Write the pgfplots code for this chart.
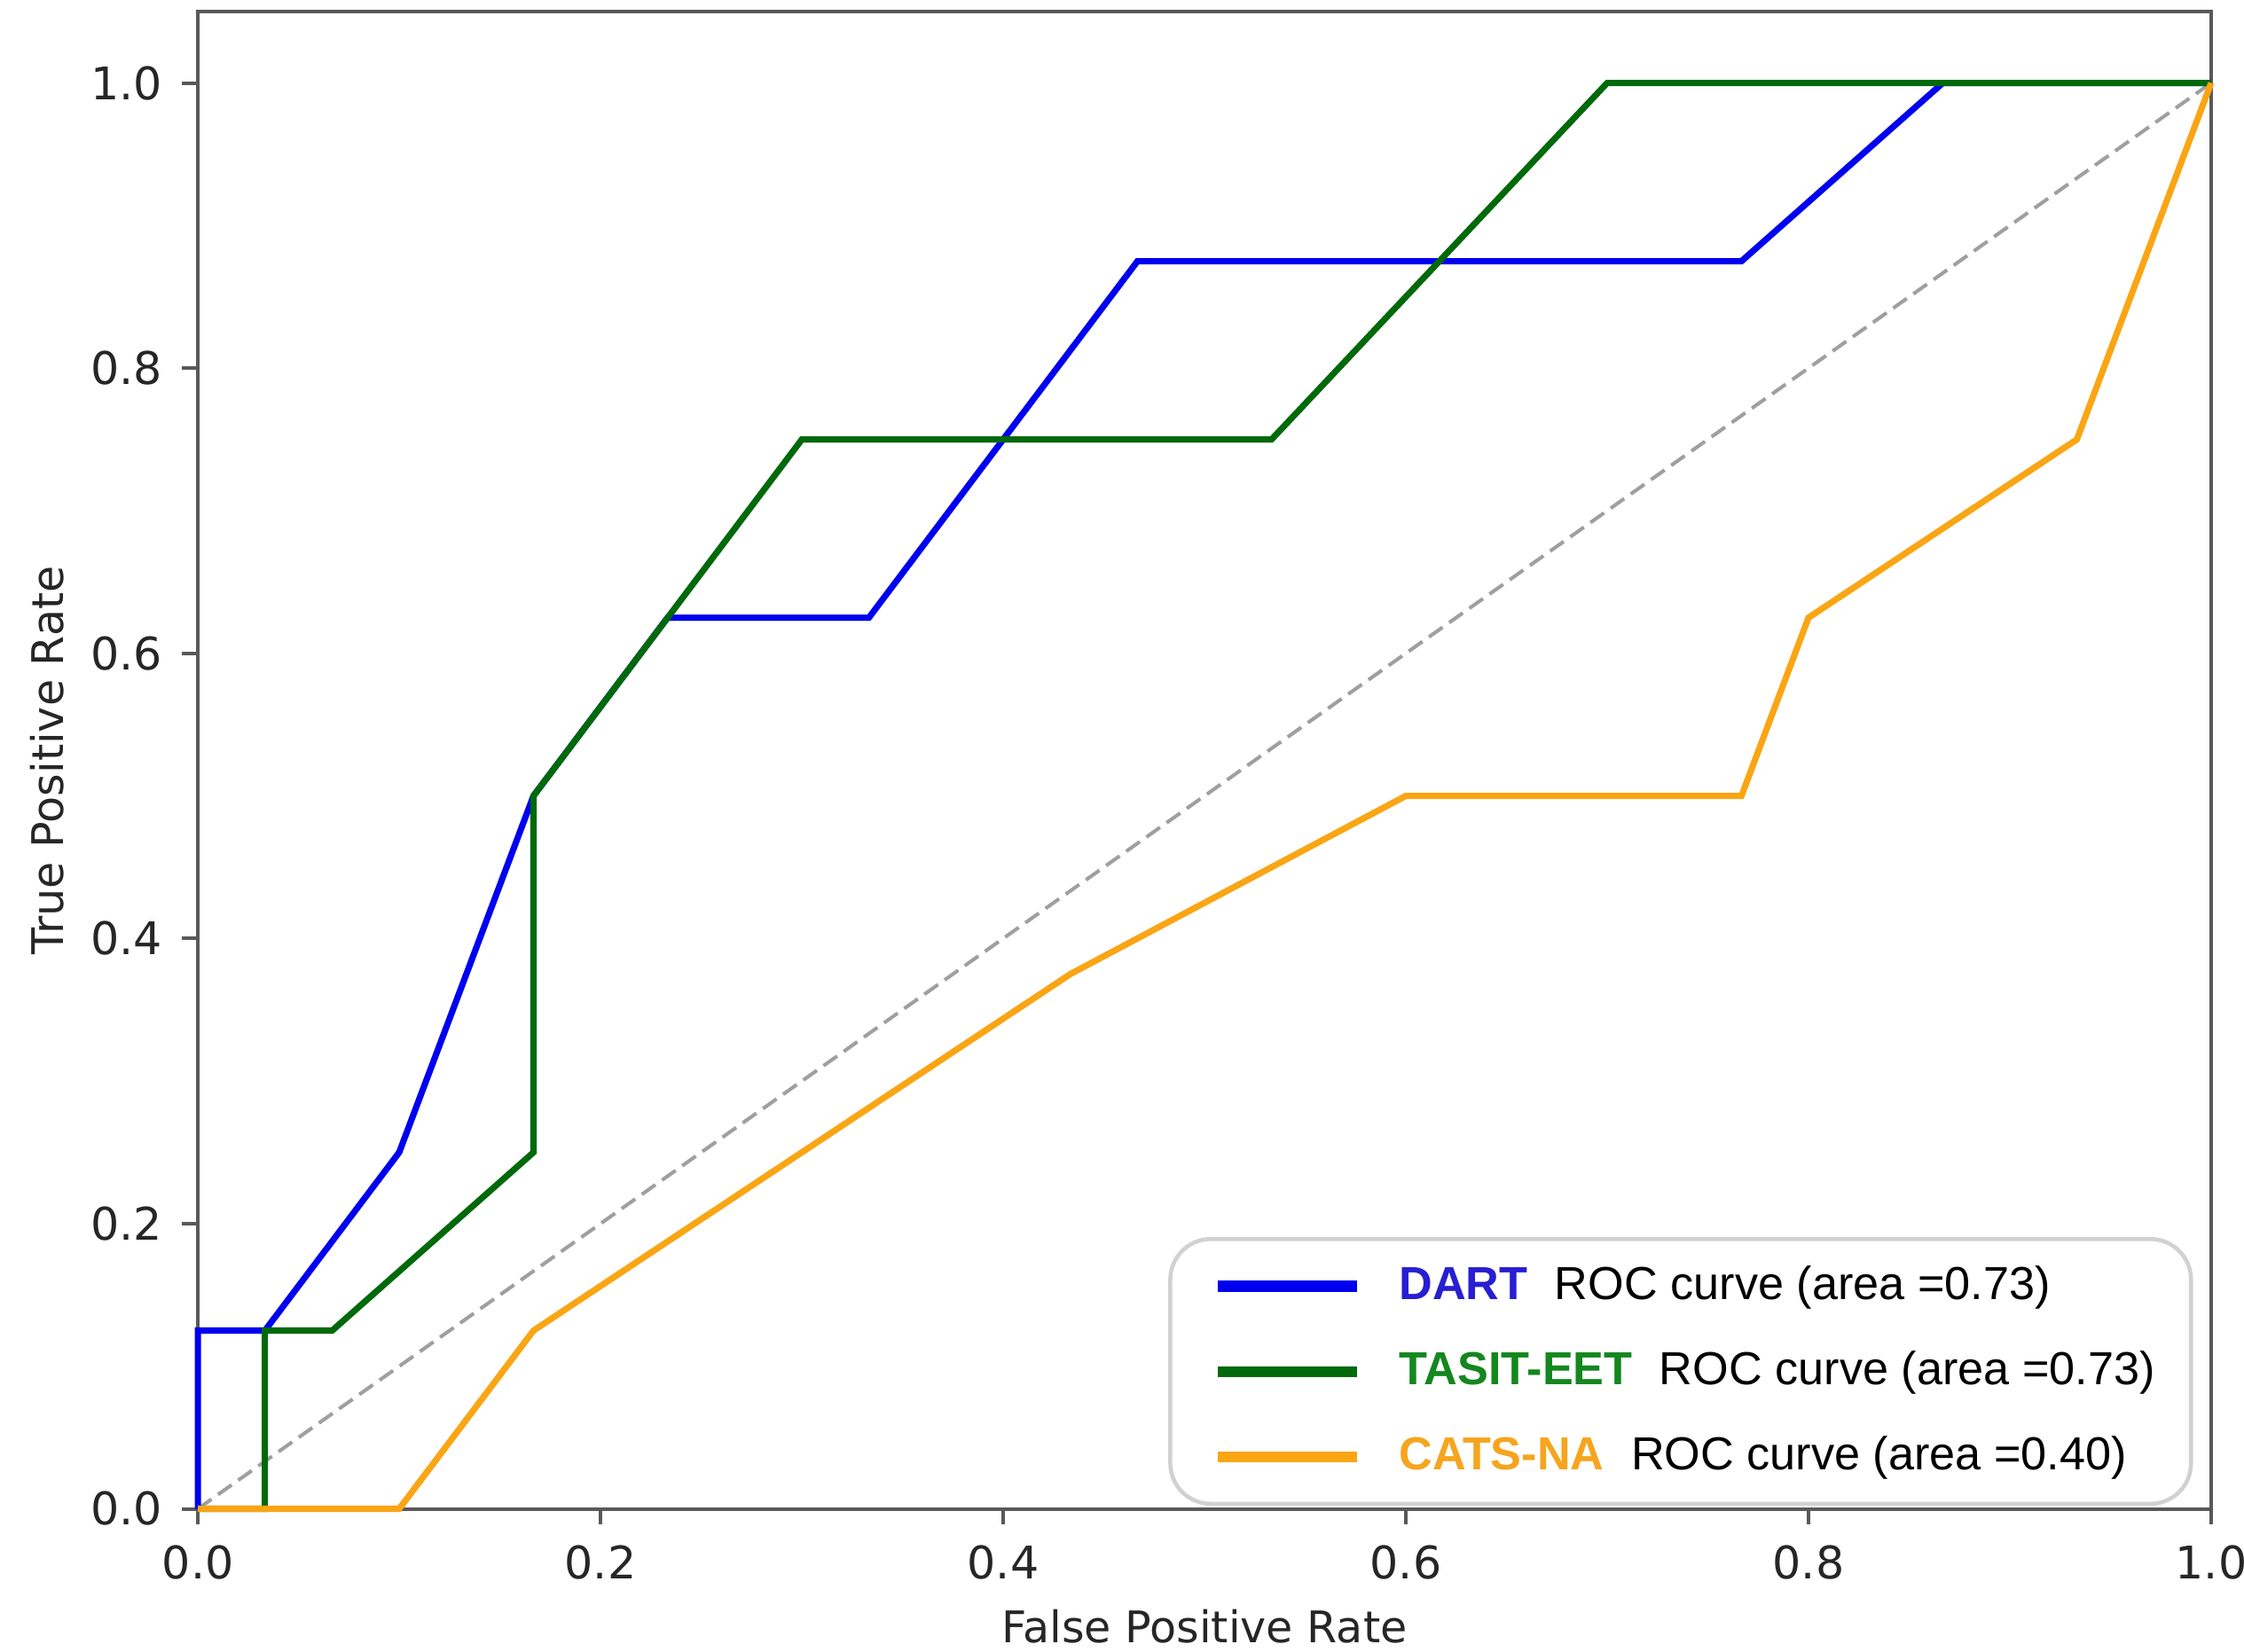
\documentclass[border=0pt]{standalone}
\usepackage{fontspec}
\setmainfont{DejaVu Sans}
\newfontfamily\legfont{Liberation Sans}
\usepackage{pgfplots}
\pgfplotsset{compat=1.18}
\definecolor{cblue}{RGB}{0,0,240}
\definecolor{cgreen}{RGB}{0,105,10}
\definecolor{corange}{RGB}{250,165,20}
\definecolor{tblue}{RGB}{40,30,210}
\definecolor{tgreen}{RGB}{20,135,30}
\definecolor{torange}{RGB}{245,165,30}

\begin{document}
\begin{tikzpicture}
\path[use as bounding box] (-44pt,-31.8pt) rectangle (455pt,335.6pt);
\begin{axis}[
  at={(0,0)}, anchor=south west, scale only axis,
  width=447.7pt, height=333pt,
  xmin=0, xmax=1, ymin=0, ymax=1.05,
  clip=false,
  xtick={0,0.2,0.4,0.6,0.8,1}, ytick={0,0.2,0.4,0.6,0.8,1},
  tick align=outside, tick pos=left, major tick length=3.5pt,
  major tick style={black!65, line width=0.8pt},
  axis line style={black!65, line width=0.8pt},
  every tick label/.append style={font=\fontsize{10}{12}\selectfont, text=black!85},
  xticklabel style={yshift=-1.2pt},
  yticklabel style={xshift=-0.9pt},
  /pgf/number format/fixed, /pgf/number format/fixed zerofill,
  /pgf/number format/precision=1, /pgf/number format/assume math mode=true,
  xlabel={False Positive Rate}, ylabel={True Positive Rate},
  label style={font=\fontsize{9.7}{12}\selectfont, text=black!85},
  xlabel style={at={(axis description cs:0.5,-0.0787)}, anchor=center},
  ylabel style={at={(axis description cs:-0.0748,0.5)}, anchor=center},
  legend style={at={(0.991,0.002)}, anchor=south east, draw=black!18, line width=0.9pt,
    rounded corners=9pt, fill=white, font=\legfont\fontsize{10.3}{12}\selectfont,
    inner xsep=6pt, inner ysep=4pt, row sep=6pt,
    /tikz/every odd column/.append style={column sep=6.2pt}},
  legend cell align=left,
  legend image code/.code={\path (0pt,0pt); \draw[#1, line width=2.4pt, sharp corners] (3.8pt,0pt) -- (34.8pt,0pt);},
]
\addplot[gray!75, line width=0.8pt, dash pattern=on 3.7pt off 1.8pt, forget plot] coordinates {(0,0) (1,1)};
\addplot[cblue, line width=1.4pt] coordinates {
(0,0) (0,0.125) (0.0333,0.125) (0.1,0.25) (0.1667,0.5) (0.2333,0.625) (0.3333,0.625)
(0.4667,0.875) (0.7667,0.875) (0.8667,1) (1,1)};
\addlegendentry{\textbf{\textcolor{tblue}{DART}}\hspace{6pt}ROC curve (area =0.73)}
\addplot[cgreen, line width=1.4pt] coordinates {
(0,0) (0.0333,0) (0.0333,0.125) (0.0667,0.125) (0.1667,0.25) (0.1667,0.5) (0.3,0.75)
(0.5333,0.75) (0.7,1) (1,1)};
\addlegendentry{\textbf{\textcolor{tgreen}{TASIT-EET}}\hspace{6pt}ROC curve (area =0.73)}
\addplot[corange, line width=1.4pt] coordinates {
(0,0) (0.1,0) (0.1667,0.125) (0.4333,0.375) (0.6,0.5) (0.7667,0.5) (0.8,0.625)
(0.9333,0.75) (1,1)};
\addlegendentry{\textbf{\textcolor{torange}{CATS-NA}}\hspace{6pt}ROC curve (area =0.40)}
\end{axis}
\end{tikzpicture}
\end{document}
